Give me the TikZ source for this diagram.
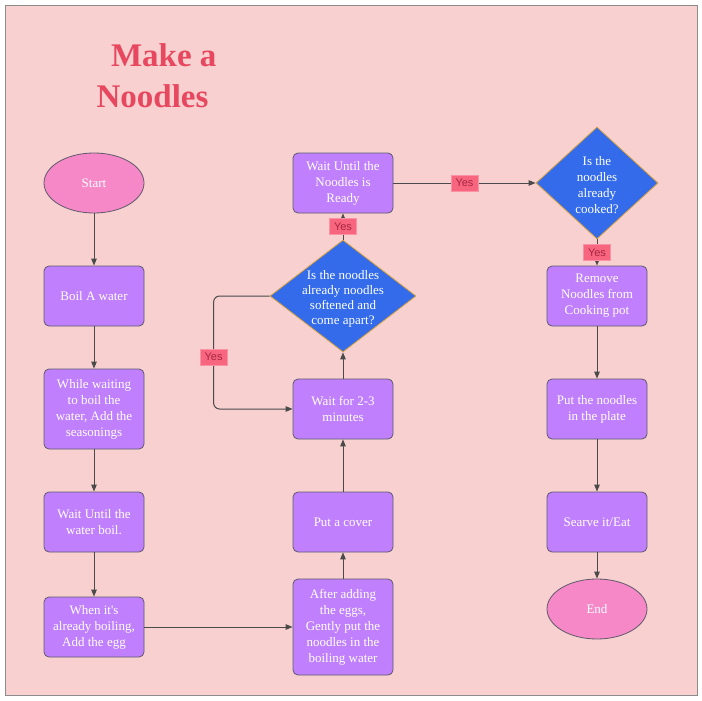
\documentclass[tikz,border=0pt]{standalone}
\usepackage{fontspec}
\setmainfont{Liberation Serif}
\newfontfamily\yesfont{Liberation Sans}
\usepackage{xcolor}
\usetikzlibrary{positioning,shapes.geometric,arrows.meta}

\definecolor{bgpink}{HTML}{F7D0CF}
\definecolor{boxpurple}{HTML}{C080FD}
\definecolor{boxline}{HTML}{5F5A6B}
\definecolor{ovalpink}{HTML}{F788C8}
\definecolor{qblue}{HTML}{336BEB}
\definecolor{qline}{HTML}{D9A13A}
\definecolor{titlered}{HTML}{E8485F}
\definecolor{yesfill}{HTML}{F7657F}
\definecolor{yesline}{HTML}{F992A4}
\definecolor{yestext}{HTML}{A8263F}
\definecolor{flowline}{HTML}{4A4A4A}

% diamond text must not grow the shape
\newcommand{\qtext}[1]{\smash{\makebox[0pt]{\raisebox{-6pt}{\begin{tabular}{@{}c@{}}#1\end{tabular}}}}}

\begin{document}
\begin{tikzpicture}[x=1pt,y=-1pt]
\tikzset{
  stepbox/.style={draw=boxline,fill=boxpurple,rounded corners=5pt,line width=0.8pt,
    minimum width=100pt,minimum height=60pt,align=center,text=white,
    font=\fontsize{13}{16}\selectfont,inner sep=2pt},
  oval/.style={ellipse,draw=boxline,fill=ovalpink,line width=0.8pt,
    minimum width=100pt,minimum height=60pt,text=white,font=\fontsize{13}{16}\selectfont},
  question/.style={diamond,draw=qline,fill=qblue,line width=0.8pt,inner sep=0pt,
    text=white,font=\fontsize{13}{15}\selectfont},
  yes/.style={fill=yesfill,draw=yesline,line width=0.8pt,text=yestext,inner sep=0pt,sharp corners,
    minimum width=27pt,minimum height=16pt,font=\yesfont\fontsize{11}{12}\selectfont},
  flow/.style={draw=flowline,line width=1pt,-{Triangle[length=7pt,width=5.5pt]}}
}
% frame
\useasboundingbox (0,0) rectangle (702,701);
\draw[fill=bgpink,draw=gray!90,line width=0.8pt] (5,5) rectangle (697,695);

\node[text=titlered,font=\fontsize{33}{41}\selectfont\bfseries,align=right,anchor=east] (title) at (220,76) {Make a\\Noodles\kern8pt};

% left column
\node[oval] (start) at (94,183) {Start};
\node[stepbox] (boil) at (94,296) {Boil A water};
\node[stepbox,minimum height=80pt] (seasoning) at (94,409) {While waiting\\to boil the\\water, Add the\\seasonings};
\node[stepbox] (waitboil) at (94,522) {Wait Until the\\water boil.};
\node[stepbox] (addegg) at (94,627) {When it\textquotesingle s\\already boiling,\\Add the egg};

% middle column
\node[stepbox,minimum height=96pt] (putnoodles) at (343,627) {After adding\\the eggs,\\Gently put the\\noodles in the\\boiling water};
\node[stepbox] (cover) at (343,522) {Put a cover};
\node[stepbox] (wait) at (343,409) {Wait for 2-3\\minutes};
\node[question,minimum width=146pt,minimum height=112pt] (soft) at (343,296) {\qtext{Is the noodles\\already noodles\\softened and\\come apart?}};
\node[stepbox] (ready) at (343,183) {Wait Until the\\Noodles is\\Ready};

% right column
\node[question,minimum width=122pt,minimum height=112pt,font=\fontsize{13}{16}\selectfont] (cooked) at (597,183) {\qtext{Is the\\noodles\\already\\cooked?}};
\node[stepbox] (remove) at (597,296) {Remove\\Noodles from\\Cooking pot};
\node[stepbox] (plate) at (597,409) {Put the noodles\\in the plate};
\node[stepbox] (eat) at (597,522) {Searve it/Eat};
\node[oval] (end) at (597,609) {End};

% connectors
\draw[flow] (start) -- (boil);
\draw[flow] (boil) -- (seasoning);
\draw[flow] (seasoning) -- (waitboil);
\draw[flow] (waitboil) -- (addegg);
\draw[flow] (addegg) -- (putnoodles);
\draw[flow] (putnoodles) -- (cover);
\draw[flow] (cover) -- (wait);
\draw[flow] (wait) -- (soft);
\draw[flow] (soft) -- node[yes]{Yes} (ready);
\draw[flow,rounded corners=6pt] (soft.west) -- ++(-56,0) |- node[yes,pos=0.27]{Yes} (wait.west);
\draw[flow] (ready) -- node[yes]{Yes} (cooked);
\draw[flow] (cooked) -- node[yes]{Yes} (remove);
\draw[flow] (remove) -- (plate);
\draw[flow] (plate) -- (eat);
\draw[flow] (eat) -- (end);
\end{tikzpicture}
\end{document}
